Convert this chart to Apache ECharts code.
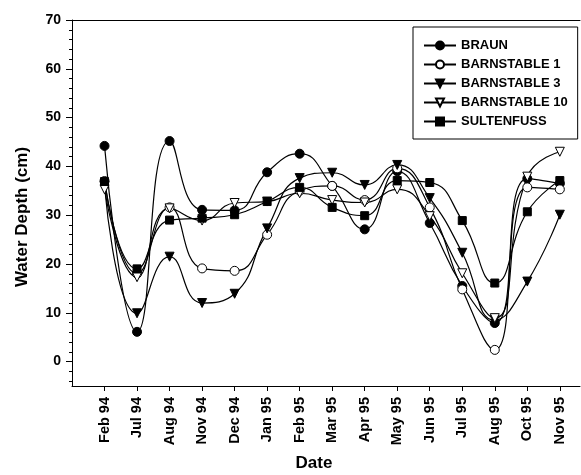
<!DOCTYPE html>
<html>
<head>
<meta charset="utf-8">
<script src="https://cdn.jsdelivr.net/npm/echarts@6/dist/echarts.min.js"></script>
<style>
  html, body { margin: 0; padding: 0; background: #fff; }
  #main { width: 581px; height: 475px; }
</style>
</head>
<body>
<div id="main"></div>
<script>
// sampling dates
var categories = ['Feb 94', 'Jul 94', 'Aug 94', 'Nov 94', 'Dec 94', 'Jan 95', 'Feb 95', 'Mar 95',
                  'Apr 95', 'May 95', 'Jun 95', 'Jul 95', 'Aug 95', 'Oct 95', 'Nov 95'];

// water depth (cm) per site
var braun        = [44.2, 6.1, 45.2, 31.1, 31.0, 38.8, 42.6, 36.0, 27.1, 39.0, 28.4, 15.5, 7.9, 37.5, 36.5];
var barnstable1  = [37.0, 18.0, 31.6, 19.1, 18.6, 26.0, 35.0, 36.0, 33.1, 39.6, 31.6, 14.8, 2.4, 35.7, 35.3];
var barnstable3  = [36.0, 9.9, 21.5, 12.0, 13.9, 27.3, 37.6, 38.7, 36.2, 40.3, 33.5, 22.3, 8.5, 16.4, 30.1];
var barnstable10 = [35.3, 17.3, 31.4, 28.9, 32.5, 32.8, 34.5, 33.1, 32.6, 35.3, 29.8, 18.1, 8.9, 37.9, 43.0];
var sultenfuss   = [36.9, 19.0, 29.0, 29.4, 30.1, 32.8, 35.7, 31.6, 29.9, 37.1, 36.7, 28.9, 16.1, 30.7, 37.1];

// axis ticks
var yMajorTicks = [0, 10, 20, 30, 40, 50, 60, 70];
var yMinorTicks = [-4, -2, 2, 4, 6, 8, 12, 14, 16, 18, 22, 24, 26, 28, 32, 34, 36, 38,
                   42, 44, 46, 48, 52, 54, 56, 58, 62, 64, 66, 68];

var FONT = 'Liberation Sans, Arial, Helvetica, sans-serif';

// x is drawn as index so the axis can start one step before Feb 94
function pairs(arr) {
  return arr.map(function (v, i) { return [i, v]; });
}
var xIndex = categories.map(function (c, i) { return i; });

function makeSeries(name, data, symbol, filled) {
  return {
    name: name,
    type: 'line',
    data: pairs(data),
    smooth: 0.5,
    symbol: symbol,
    symbolSize: symbol === 'rect' ? 8 : 9,
    symbolRotate: symbol === 'triangle' ? 180 : 0,
    lineStyle: { color: '#000', width: 1.2 },
    itemStyle: { color: filled ? '#000' : '#fff', borderColor: '#000', borderWidth: 1 },
    emphasis: { disabled: true }
  };
}

var myChart = echarts.init(document.getElementById('main'));

var option = {
  animation: false,
  grid: { left: 72, right: 1, top: 20, bottom: 89 },
  legend: {
    orient: 'vertical',
    left: 413,
    top: 27,
    padding: [12, 10, 11, 10],
    itemWidth: 32,
    itemHeight: 10,
    itemGap: 6,
    borderColor: '#000',
    borderWidth: 1,
    textStyle: { fontFamily: FONT, fontWeight: 'bold', fontSize: 13, color: '#000' },
    data: ['BRAUN', 'BARNSTABLE 1', 'BARNSTABLE 3', 'BARNSTABLE 10', 'SULTENFUSS']
  },
  xAxis: [
    {
      type: 'value',
      min: -1,
      max: 14.62,
      splitLine: { show: false },
      axisLine: { onZero: false, lineStyle: { color: '#000' } },
      axisTick: { show: true, length: 5, customValues: xIndex, lineStyle: { color: '#000' } },
      axisLabel: {
        customValues: xIndex,
        rotate: 90,
        margin: 11,
        fontFamily: FONT, fontWeight: 'bold', fontSize: 14.5, color: '#000',
        formatter: function (v) { return categories[v]; }
      }
    },
    {
      // top frame line
      type: 'value',
      position: 'top',
      min: -1,
      max: 14.62,
      splitLine: { show: false },
      axisLine: { show: true, onZero: false, lineStyle: { color: '#000' } },
      axisTick: { show: false },
      axisLabel: { show: false }
    }
  ],
  yAxis: [
    {
      type: 'value',
      min: -5,
      max: 70,
      splitLine: { show: false },
      axisLine: { show: true, onZero: false, lineStyle: { color: '#000' } },
      axisTick: { show: true, length: 6, customValues: yMajorTicks, lineStyle: { color: '#000' } },
      axisLabel: {
        customValues: yMajorTicks,
        margin: 11,
        fontFamily: FONT, fontWeight: 'bold', fontSize: 14, color: '#000'
      }
    },
    {
      type: 'value',
      position: 'left',
      min: -5,
      max: 70,
      splitLine: { show: false },
      axisLine: { show: false, onZero: false },
      axisTick: { show: true, length: 3, customValues: yMinorTicks, lineStyle: { color: '#000' } },
      axisLabel: { show: false }
    }
  ],
  graphic: [
    {
      type: 'text',
      x: 22, y: 217,
      rotation: Math.PI / 2,
      style: {
        text: 'Water Depth (cm)', fill: '#000',
        font: 'bold 17px ' + FONT,
        align: 'center', verticalAlign: 'middle'
      }
    },
    {
      type: 'text',
      x: 314, y: 463,
      style: {
        text: 'Date', fill: '#000',
        font: 'bold 17px ' + FONT,
        align: 'center', verticalAlign: 'middle'
      }
    }
  ],
  series: [
    makeSeries('BRAUN', braun, 'circle', true),
    makeSeries('BARNSTABLE 1', barnstable1, 'circle', false),
    makeSeries('BARNSTABLE 3', barnstable3, 'triangle', true),
    makeSeries('BARNSTABLE 10', barnstable10, 'triangle', false),
    makeSeries('SULTENFUSS', sultenfuss, 'rect', true)
  ]
};

myChart.setOption(option);
</script>
</body>
</html>
